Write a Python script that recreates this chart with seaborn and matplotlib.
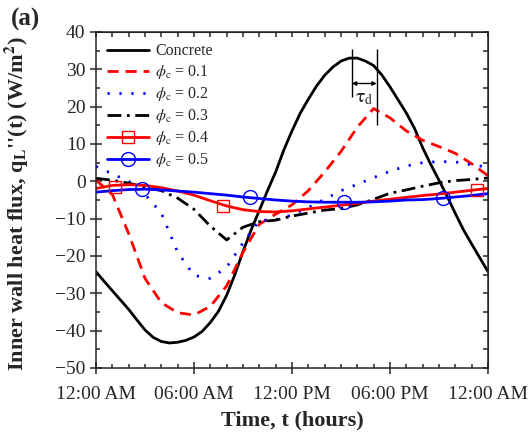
import numpy as np
import pandas as pd
import seaborn as sns
import matplotlib.pyplot as plt
from matplotlib.lines import Line2D
from matplotlib.ticker import MultipleLocator

# hours of the day
hours = list(range(25))
half_hours = [i / 2 for i in range(49)]

# inner wall heat flux (W/m2)
# concrete read every half hour (smooth curve)
q_concrete = [-24.2, -26.8, -29.3, -31.8, -34.3, -37.1, -39.8, -41.8, -42.9, -43.3,
              -43.1, -42.6, -41.7, -40.2, -37.8, -34.8, -30.5, -25.0, -18.8, -13.0,
              -7.8, -2.5, 2.5, 8.4, 13.5, 18.2, 22.0, 25.5, 28.4, 30.6,
              32.2, 33.0, 33.0, 32.2, 31.0, 28.5, 25.3, 21.8, 18.3, 14.2,
              9.0, 4.5, 0.3, -4.0, -8.6, -13.0, -16.8, -20.5, -24.2]
q_01 = [0.3, -3.5, -14, -26, -32.5, -35.2, -35.8, -33.5, -28, -19, -11.5, -8.8, -6.3,
        -2.5, 2.5, 8, 14.5, 19.5, 17, 13.5, 11, 9.3, 7.5, 4.7, 1.5]
q_02 = [4, 2, 0, -3.5, -8.5, -19, -25.2, -26, -23, -16.5, -10.5, -10.3, -9,
        -7, -4.8, -2.5, -0.8, 1, 2.7, 4.1, 5, 5.3, 5.2, 4.4, 3.8]
q_03 = [0.8, 0.3, -0.5, -1.5, -2.5, -4.5, -7.5, -12, -15.7, -12.3, -10.8, -10.4, -9.3,
        -8.5, -7.7, -7.3, -6.3, -4.8, -3.2, -2.3, -1.3, -0.4, 0.2, 0.5, 0.9]
q_04 = [-1.9, -1.1, -0.9, -1.1, -1.7, -2.6, -3.7, -5.2, -6.6, -7.6, -8.1, -8.2, -7.9,
        -7.4, -6.9, -6.4, -5.9, -5.3, -4.8, -4.3, -3.8, -3.4, -2.9, -2.4, -1.9]
q_05 = [-2.9, -2.5, -2.2, -2.1, -2.3, -2.6, -2.9, -3.3, -3.7, -4.2, -4.6, -5.0, -5.3,
        -5.5, -5.6, -5.6, -5.6, -5.5, -5.3, -5.0, -4.9, -4.6, -4.2, -3.8, -3.3]

# marker positions on the 0.4 / 0.5 curves
mk_t_04 = [1.16, 7.76, 23.35]
mk_q_04 = [-1.4, -6.5, -2.3]
mk_t_05 = [2.8, 9.43, 15.2, 21.27]
mk_q_05 = [-2.1, -4.3, -5.5, -4.6]

# time lag annotation (peak of concrete vs peak of phi_c = 0.1)
t_peak_concrete = 15.66
t_peak_delay = 17.19

labels = ["Concrete", r"$\phi_\mathrm{c}$ = 0.1", r"$\phi_\mathrm{c}$ = 0.2",
          r"$\phi_\mathrm{c}$ = 0.3", r"$\phi_\mathrm{c}$ = 0.4", r"$\phi_\mathrm{c}$ = 0.5"]
xtick_labels = ["12:00 AM", "06:00 AM", "12:00 PM", "06:00 PM", "12:00 AM"]

sns.set_style("ticks")
plt.rcParams["font.family"] = ["Liberation Serif", "DejaVu Serif"]
plt.rcParams["mathtext.fontset"] = "stix"

fig = plt.figure(figsize=(5.31, 4.37), dpi=100)
ax = fig.add_axes([0.1808, 0.1579, 0.7382, 0.7689])

series = [q_concrete, q_01, q_02, q_03, q_04, q_05]
times = [half_hours, hours, hours, hours, hours, hours]
colors = ["black", "red", "blue", "black", "red", "blue"]
styles = ["-", (0, (4, 2.5)), (0, (0.8, 3.5)), (0, (5, 2, 1, 2)), "-", "-"]

for t, q, lab, c, ls in zip(times, series, labels, colors, styles):
    df = pd.DataFrame({"t": t, "q": q})
    sns.lineplot(data=df, x="t", y="q", color=c, linestyle=ls, linewidth=2,
                 ax=ax, label=lab, legend=False)

ax.plot(mk_t_04, mk_q_04, ls="none", marker="s", ms=9, mfc="none", mec="red", mew=1)
ax.plot(mk_t_05, mk_q_05, ls="none", marker="o", ms=10, mfc="none", mec="blue", mew=1)

# tau_d annotation
ax.vlines(t_peak_concrete, 22.7, 35.4, color="black", lw=1)
ax.vlines(t_peak_delay, 15.1, 35.4, color="black", lw=1)
ax.annotate("", xy=(t_peak_concrete, 26.2), xytext=(t_peak_delay, 26.2),
            arrowprops=dict(arrowstyle="<|-|>", color="black", lw=1,
                            shrinkA=0, shrinkB=0, mutation_scale=6))
ax.text((t_peak_concrete + t_peak_delay) / 2, 22.3, r"$\mathrm{\tau_d}$",
        ha="center", va="center", fontsize=14)

ax.set_xlim(0, 24)
ax.set_ylim(-50, 40)
ax.set_xticks([0, 6, 12, 18, 24])
ax.set_xticklabels(xtick_labels)
ax.xaxis.set_minor_locator(MultipleLocator(1))
ax.yaxis.set_major_locator(MultipleLocator(10))
ax.yaxis.set_minor_locator(MultipleLocator(5))
ax.tick_params(axis="both", which="major", direction="inout", length=8, width=1.1,
               labelsize=14, top=False, right=False)
ax.tick_params(axis="x", which="major", pad=9)
ax.tick_params(axis="both", which="minor", direction="in", length=3, width=1.1,
               top=False, right=False)

# mirrored ticks on top and right
axt = ax.secondary_xaxis("top")
axt.set_xticks(np.arange(0, 25, 1))
axt.tick_params(direction="in", length=3.5, width=1.1, labeltop=False)
axr = ax.secondary_yaxis("right")
axr.set_yticks(np.arange(-50, 41, 5))
axr.tick_params(direction="in", length=3.5, width=1.1, labelright=False)

for sp in ax.spines.values():
    sp.set_visible(True)
    sp.set_linewidth(1.1)

ax.set_xlabel("Time, t (hours)", fontsize=16, fontweight="bold", labelpad=5)
ax.set_ylabel(r"Inner wall heat flux, q$_{\mathbf{L}}$''(t) (W/m$^{\mathbf{2}}$)",
              fontsize=16, fontweight="bold", labelpad=4)
ax.yaxis.set_label_coords(-0.165, 0.49)

handles = [
    Line2D([], [], color="black", lw=2),
    Line2D([], [], color="red", lw=2, ls=(0, (4, 2.5))),
    Line2D([], [], color="blue", lw=2, ls=(0, (0.8, 3.5))),
    Line2D([], [], color="black", lw=2, ls=(0, (5, 2, 1, 2))),
    Line2D([], [], color="red", lw=2, marker="s", ms=9, mfc="none", mec="red", mew=1),
    Line2D([], [], color="blue", lw=2, marker="o", ms=10, mfc="none", mec="blue", mew=1),
]
ax.legend(handles, labels, loc="upper left", frameon=False, fontsize=11.5,
          handlelength=2.6, labelspacing=0.25, borderaxespad=0.3, handletextpad=0.4)

fig.text(0.02, 0.982, "(a)", fontsize=18, fontweight="bold", ha="left", va="top")

plt.savefig("out.png", dpi=100)
